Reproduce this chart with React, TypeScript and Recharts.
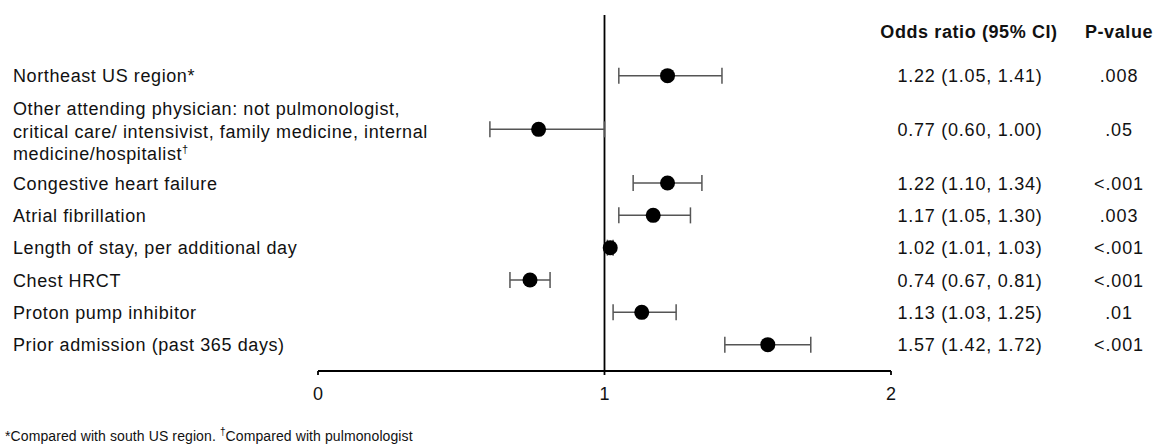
import React from 'react';
import {
    ScatterChart,
    Scatter,
    XAxis,
    YAxis,
    ErrorBar,
    ReferenceLine
} from 'recharts';

const labels: string[][] = [
    ['Northeast US region*'],
    [
        'Other attending physician: not pulmonologist,',
        'critical care/ intensivist, family medicine, internal',
        'medicine/hospitalist†'
    ],
    ['Congestive heart failure'],
    ['Atrial fibrillation'],
    ['Length of stay, per additional day'],
    ['Chest HRCT'],
    ['Proton pump inhibitor'],
    ['Prior admission (past 365 days)'],
];

const oddsRatio = [1.22, 0.77, 1.22, 1.17, 1.02, 0.74, 1.13, 1.57];
const ciLow = [1.05, 0.6, 1.1, 1.05, 1.01, 0.67, 1.03, 1.42];
const ciHigh = [1.41, 1.0, 1.34, 1.3, 1.03, 0.81, 1.25, 1.72];
const pValues = ['.008', '.05', '<.001', '.003', '<.001', '<.001', '.01', '<.001'];
const xTicks = [0, 1, 2];

// row height grows with the number of label lines
const ROW_BASE = 11;
const LINE_H = 21.5;
const TOP_PAD = 44.75;
const BOTTOM_PAD = 10.25;

const rowHeights = labels.map((l) => ROW_BASE + LINE_H * l.length);
const rowCenters: number[] = [];
let acc = 0;
rowHeights.forEach((h) => {
    rowCenters.push(acc + h / 2);
    acc += h;
});

const rows = oddsRatio.map((or, i) => ({
    x: or,
    y: rowCenters[i],
    err: [+(or - ciLow[i]).toFixed(3), +(ciHigh[i] - or).toFixed(3)],
}));

const FONT = '"Liberation Sans", Arial, Helvetica, sans-serif';
const fmt = (v: number) => v.toFixed(2);

function Dagger({ text }: { text: string }) {
    const parts = text.split('†');
    return (
        <>
            {parts.map((p, k) => (
                <React.Fragment key={k}>
                    {k > 0 && (
                        <tspan fontSize={11} dy={-7}>†</tspan>
                    )}
                    <tspan dy={k > 0 ? 7 : 0}>{p}</tspan>
                </React.Fragment>
            ))}
        </>
    );
}

function RowTick(props: any) {
    const { y, payload } = props;
    const i = rowCenters.findIndex((c) => Math.abs(c - payload.value) < 0.01);
    if (i < 0) return null;
    const lines = labels[i];
    return (
        <g fontFamily={FONT} fontSize={18} fill="#111">
            {lines.map((line, k) => (
                <text
                    key={k}
                    x={13}
                    y={y + 6.5 + (k - (lines.length - 1) / 2) * 22.5 + (lines.length > 1 ? 2 : 0)}
                    letterSpacing={0.6}
                >
                    <Dagger text={line} />
                </text>
            ))}
            <text x={970} y={y + 6.5} textAnchor="middle" letterSpacing={0.75}>
                {`${fmt(oddsRatio[i])} (${fmt(ciLow[i])}, ${fmt(ciHigh[i])})`}
            </text>
            <text x={1119} y={y + 6.5} textAnchor="middle" letterSpacing={0.9}>
                {pValues[i]}
            </text>
        </g>
    );
}

const Dot = (props: any) => <circle cx={props.cx} cy={props.cy} r={7.5} fill="#000" />;

export default function App() {
    return (
        <div style={{ position: 'absolute', left: 0, top: 0, width: 1157, height: 448, background: '#fff', fontFamily: FONT }}>
            <ScatterChart width={1157} height={448} margin={{ top: 15, right: 266, bottom: 47, left: 8 }}>
                <XAxis
                    type="number"
                    dataKey="x"
                    domain={[0, 2]}
                    ticks={xTicks}
                    allowDataOverflow
                    height={30}
                    stroke="#000"
                    strokeWidth={1.8}
                    tickSize={4}
                    tickMargin={12}
                    tick={{ fill: '#111', fontSize: 18, fontFamily: FONT }}
                />
                <YAxis
                    type="number"
                    dataKey="y"
                    domain={[-TOP_PAD, acc + BOTTOM_PAD]}
                    allowDataOverflow
                    reversed
                    ticks={rowCenters}
                    interval={0}
                    width={310}
                    axisLine={false}
                    tickLine={false}
                    tick={<RowTick />}
                />
                <ReferenceLine x={1} stroke="#000" strokeWidth={1.8} />
                <Scatter data={rows} shape={<Dot />} isAnimationActive={false}>
                    <ErrorBar dataKey="err" direction="x" width={8} stroke="#555" strokeWidth={1.5} isAnimationActive={false} />
                </Scatter>
            </ScatterChart>
            <div style={{ position: 'absolute', left: 869, top: 21, width: 200, textAlign: 'center', fontWeight: 'bold', fontSize: 18, lineHeight: '22px', letterSpacing: 0.6, color: '#111' }}>
                Odds ratio (95% CI)
            </div>
            <div style={{ position: 'absolute', left: 1069, top: 21, width: 100, textAlign: 'center', fontWeight: 'bold', fontSize: 18, lineHeight: '22px', letterSpacing: 0.6, color: '#111' }}>
                P-value
            </div>
            <div style={{ position: 'absolute', left: 5, top: 422, fontSize: 14, lineHeight: '20px', letterSpacing: 0.1, color: '#111', whiteSpace: 'nowrap' }}>
                *Compared with south US region. <sup style={{ fontSize: 10 }}>†</sup>Compared with pulmonologist
            </div>
        </div>
    );
}
